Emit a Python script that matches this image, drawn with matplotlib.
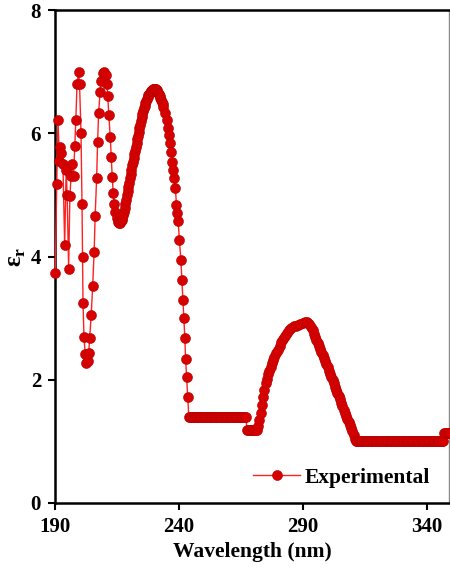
import matplotlib
matplotlib.use("Agg")
import matplotlib.pyplot as plt

# --- data (wavelength in nm, relative permittivity) ---
wl_noisy = [190.1, 190.7, 191.2, 191.8, 192.1, 192.6, 193.2, 193.9, 194.5, 194.9,
            195.5, 196.0, 196.5, 196.9, 197.5, 198.0, 198.4, 198.9, 199.5, 199.9,
            200.5, 200.9, 201.1, 201.3, 201.7, 202.2, 202.6, 203.2, 203.6, 204.0,
            204.6, 205.2, 205.8, 206.2, 206.8, 207.2, 207.6, 208.2, 208.6, 209.2,
            209.8, 210.5, 210.9, 211.3, 211.7, 212.3, 212.7, 213.1, 213.5, 213.9,
            214.3, 214.9, 215.5]
eps_noisy = [3.73, 5.17, 6.22, 5.55, 5.78, 5.68, 5.50, 4.19, 5.40, 5.00,
             3.80, 4.98, 5.30, 5.50, 5.30, 5.80, 6.22, 6.80, 7.00, 6.80,
             6.00, 4.85, 4.00, 3.25, 2.70, 2.42, 2.27, 2.30, 2.43, 2.68,
             3.05, 3.52, 4.08, 4.65, 5.27, 5.86, 6.33, 6.67, 6.85, 6.98,
             7.00, 6.95, 6.80, 6.60, 6.30, 5.94, 5.62, 5.29, 5.03, 4.85,
             4.72, 4.62, 4.56]

wl_peak1 = [216.0, 216.3, 216.6, 216.9, 217.2, 217.5, 217.8, 218.1, 218.4, 218.7,
            219.0, 219.3, 219.6, 219.9, 220.2, 220.5, 220.8, 221.1, 221.4, 221.7,
            222.0, 222.3, 222.6, 222.9, 223.2, 223.5, 223.8, 224.1, 224.4, 224.7,
            225.0, 225.3, 225.6, 225.9, 226.2, 226.5, 226.8, 227.1, 227.4, 227.7,
            228.0, 228.3, 228.6, 228.9, 229.2, 229.5, 229.8, 230.1, 230.4, 230.7,
            231.0, 231.3, 231.6, 231.9, 232.2, 232.5, 232.8, 233.1, 233.4, 233.7,
            234.3, 235.0, 235.6, 236.0, 236.6, 237.0, 237.4, 237.7, 238.1, 238.6,
            239.0, 239.4, 239.7, 240.2, 240.8, 241.2, 241.6, 242.0, 242.4, 242.7,
            243.1, 243.6, 244.0]
eps_peak1 = [4.54, 4.55, 4.57, 4.60, 4.63, 4.67, 4.72, 4.78, 4.85, 4.92,
             4.99, 5.06, 5.13, 5.20, 5.27, 5.34, 5.41, 5.48, 5.54, 5.60,
             5.66, 5.72, 5.78, 5.84, 5.90, 5.96, 6.02, 6.08, 6.14, 6.20,
             6.26, 6.31, 6.36, 6.41, 6.45, 6.49, 6.53, 6.56, 6.59, 6.62,
             6.64, 6.66, 6.68, 6.69, 6.70, 6.71, 6.72, 6.72, 6.72, 6.71,
             6.70, 6.68, 6.66, 6.63, 6.60, 6.57, 6.54, 6.50, 6.47, 6.43,
             6.33, 6.22, 6.08, 5.97, 5.84, 5.70, 5.54, 5.40, 5.27, 5.11,
             4.84, 4.70, 4.57, 4.27, 3.94, 3.62, 3.30, 3.00, 2.68, 2.34,
             2.05, 1.72, 1.40]

wl_flat1 = [244.5, 245.0, 245.5, 246.0, 246.5, 247.0, 247.5, 248.0, 248.5, 249.0,
            249.5, 250.0, 250.5, 251.0, 251.5, 252.0, 252.5, 253.0, 253.5, 254.0,
            254.5, 255.0, 255.5, 256.0, 256.5, 257.0, 257.5, 258.0, 258.5, 259.0,
            259.5, 260.0, 260.5, 261.0, 261.5, 262.0, 262.5, 263.0, 263.5, 264.0,
            264.5, 265.0, 265.5, 266.0, 266.5, 267.0,
            267.5, 268.0, 268.5, 269.0, 269.5, 270.0, 270.5, 271.0, 271.5]
eps_flat1 = [1.40, 1.40, 1.40, 1.40, 1.40, 1.40, 1.40, 1.40, 1.40, 1.40,
             1.40, 1.40, 1.40, 1.40, 1.40, 1.40, 1.40, 1.40, 1.40, 1.40,
             1.40, 1.40, 1.40, 1.40, 1.40, 1.40, 1.40, 1.40, 1.40, 1.40,
             1.40, 1.40, 1.40, 1.40, 1.40, 1.40, 1.40, 1.40, 1.40, 1.40,
             1.40, 1.40, 1.40, 1.40, 1.40, 1.40,
             1.18, 1.18, 1.18, 1.18, 1.18, 1.18, 1.18, 1.18, 1.18]

wl_peak2 = [272.0, 272.5, 273.0, 273.5, 274.0, 274.5, 275.0, 275.5, 276.0, 276.5,
            277.0, 277.5, 278.0, 278.5, 279.2, 279.9, 280.6, 281.3, 282.0, 282.8,
            283.6, 284.5, 285.4, 286.3, 287.2, 288.1, 289.0, 289.9, 290.8, 291.8,
            292.6, 293.3, 294.0, 294.5, 295.0, 295.5, 296.0, 296.5, 297.0, 297.5,
            298.0, 298.5, 299.0, 299.5, 300.0, 300.5, 301.0, 301.5, 302.0, 302.5,
            303.0, 303.5, 304.0, 304.5, 305.0, 305.5, 306.0, 306.5, 307.0, 307.5,
            308.0, 308.5, 309.0, 309.5, 310.0, 310.5, 311.0]
eps_peak2 = [1.25, 1.35, 1.46, 1.59, 1.72, 1.84, 1.94, 2.02, 2.09, 2.15,
             2.21, 2.27, 2.32, 2.37, 2.43, 2.49, 2.55, 2.61, 2.66, 2.71,
             2.76, 2.81, 2.84, 2.87, 2.88, 2.89, 2.90, 2.92, 2.93, 2.94,
             2.90, 2.85, 2.80, 2.75, 2.70, 2.64, 2.59, 2.55, 2.50, 2.45,
             2.40, 2.36, 2.31, 2.26, 2.21, 2.15, 2.10, 2.05, 2.00, 1.94,
             1.89, 1.84, 1.79, 1.73, 1.68, 1.62, 1.57, 1.51, 1.46, 1.41,
             1.36, 1.31, 1.26, 1.21, 1.17, 1.10, 1.04]

wl_flat2 = [311.5, 312.0, 312.5, 313.0, 313.5, 314.0, 314.5, 315.0, 315.5, 316.0,
            316.5, 317.0, 317.5, 318.0, 318.5, 319.0, 319.5, 320.0, 320.5, 321.0,
            321.5, 322.0, 322.5, 323.0, 323.5, 324.0, 324.5, 325.0, 325.5, 326.0,
            326.5, 327.0, 327.5, 328.0, 328.5, 329.0, 329.5, 330.0, 330.5, 331.0,
            331.5, 332.0, 332.5, 333.0, 333.5, 334.0, 334.5, 335.0, 335.5, 336.0,
            336.5, 337.0, 337.5, 338.0, 338.5, 339.0, 339.5, 340.0, 340.5, 341.0,
            341.5, 342.0, 342.5, 343.0, 343.5, 344.0, 344.5, 345.0, 345.5, 346.0,
            346.5, 347.0, 347.5, 348.0, 348.5, 349.0, 349.5, 350.0]
eps_flat2 = [1.00, 1.00, 1.00, 1.00, 1.00, 1.00, 1.00, 1.00, 1.00, 1.00,
             1.00, 1.00, 1.00, 1.00, 1.00, 1.00, 1.00, 1.00, 1.00, 1.00,
             1.00, 1.00, 1.00, 1.00, 1.00, 1.00, 1.00, 1.00, 1.00, 1.00,
             1.00, 1.00, 1.00, 1.00, 1.00, 1.00, 1.00, 1.00, 1.00, 1.00,
             1.00, 1.00, 1.00, 1.00, 1.00, 1.00, 1.00, 1.00, 1.00, 1.00,
             1.00, 1.00, 1.00, 1.00, 1.00, 1.00, 1.00, 1.00, 1.00, 1.00,
             1.00, 1.00, 1.00, 1.00, 1.00, 1.00, 1.00, 1.00, 1.00, 1.00,
             1.00, 1.13, 1.13, 1.13, 1.13, 1.13, 1.13, 1.13]

wavelength = wl_noisy + wl_peak1 + wl_flat1 + wl_peak2 + wl_flat2
epsilon = eps_noisy + eps_peak1 + eps_flat1 + eps_peak2 + eps_flat2

x_ticks = [190, 240, 290, 340]
y_ticks = [0, 2, 4, 6, 8]

# --- figure ---
plt.rcParams['font.family'] = ['Liberation Serif', 'DejaVu Serif']
plt.rcParams['font.weight'] = 'bold'
plt.rcParams['mathtext.fontset'] = 'custom'
plt.rcParams['mathtext.rm'] = 'Liberation Serif:bold'

fig = plt.figure(figsize=(4.5, 5.74), dpi=100)
ax = fig.add_axes([55 / 450, 71 / 574, 394 / 450, 493 / 574])

ax.plot(wavelength, epsilon, color='#ff2020', lw=1.0, marker='o', ms=7.2,
        mfc='#d60000', mec='#b80000', mew=0.4, clip_on=False, zorder=3,
        label='Experimental')

ax.set_xlim(190, 349)
ax.set_ylim(0, 8)
ax.set_xticks(x_ticks)
ax.set_yticks(y_ticks)
ax.tick_params(direction='out', length=5, width=1.5, labelsize=15, pad=5)
for lbl in ax.get_xticklabels() + ax.get_yticklabels():
    lbl.set_fontweight('bold')
for side in ['left', 'bottom', 'top']:
    ax.spines[side].set_linewidth(1.8)
ax.spines['right'].set_linewidth(1.0)
ax.spines['right'].set_color('#888888')

ax.set_xlabel('Wavelength (nm)', fontsize=15.5, fontweight='bold', labelpad=4)
ax.set_ylabel('ε$_\\mathregular{r}$', fontsize=18, fontweight='bold', labelpad=2)

leg = ax.legend(loc='lower right', frameon=False, fontsize=15.5,
                handlelength=2.2, handletextpad=0.2, borderaxespad=0.3,
                bbox_to_anchor=(0.99, 0.0))
for t in leg.get_texts():
    t.set_fontweight('bold')

fig.savefig('out.png', dpi=100)
